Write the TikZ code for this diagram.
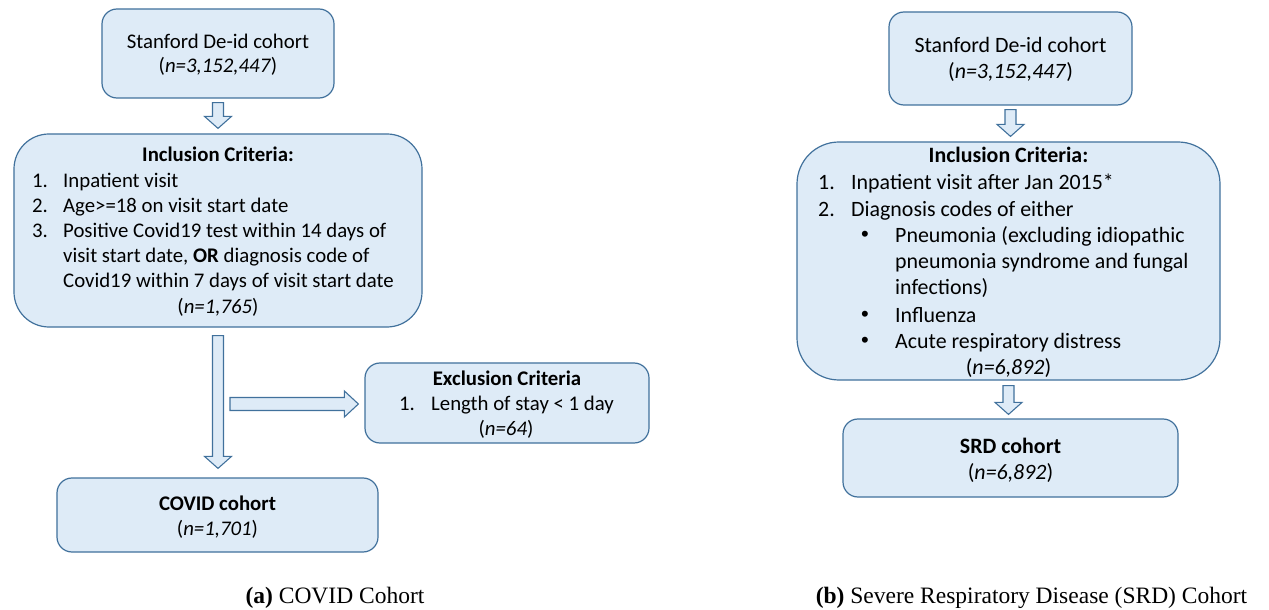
\documentclass[tikz,border=0pt]{standalone}
\usepackage{fontspec}
\setmainfont{Carlito}
\newfontfamily\capfont{Liberation Serif}
\newfontfamily\bulfont{Liberation Sans}
\usetikzlibrary{calc}
\definecolor{boxfill}{HTML}{DEEBF7}
\definecolor{boxline}{HTML}{41719C}
\tikzset{
  flowbox/.style={draw=boxline, fill=boxfill, line width=1.2bp, inner sep=0pt, rounded corners=#1},
  flowbox/.default=15bp,
  blockarr/.style={draw=boxline, fill=boxfill, line width=1.1bp, line join=miter},
  lt/.style={inner sep=0pt, anchor=base, font=\fontsize{20.8bp}{25bp}\selectfont},
  ltw/.style={lt, anchor=base west},
  rt/.style={inner sep=0pt, anchor=base, font=\fontsize{21.9bp}{26bp}\selectfont},
  rtw/.style={rt, anchor=base west},
  bul/.style={inner sep=0pt, anchor=base, font=\bulfont\fontsize{22bp}{24bp}\selectfont},
  captext/.style={inner sep=0pt, anchor=base, font=\capfont\fontsize{23.5bp}{28bp}\selectfont},
}
\newcommand\flowvarrow[2]{\draw[blockarr] let \p1=(#1), \p2=(#2) in
  (\x1-5.5bp,\y1) -- (\x1+5.5bp,\y1) -- (\x1+5.5bp,\y2+12bp) -- (\x1+13.5bp,\y2+12bp)
  -- (\x1,\y2) -- (\x1-13.5bp,\y2+12bp) -- (\x1-5.5bp,\y2+12bp) -- cycle;}
\newcommand\flowharrow[2]{\draw[blockarr] let \p1=(#1), \p2=(#2) in
  (\x1,\y1+6.5bp) -- (\x2-14bp,\y1+6.5bp) -- (\x2-14bp,\y1+13bp) -- (\x2,\y1)
  -- (\x2-14bp,\y1-13bp) -- (\x2-14bp,\y1-6.5bp) -- (\x1,\y1-6.5bp) -- cycle;}
\begin{document}
\begin{tikzpicture}[x=1bp,y=-1bp]
\useasboundingbox (0,0) rectangle (1269,610);
% ---------- left panel boxes
\node[flowbox, minimum width=232bp, minimum height=89bp] (ls) at (218,53.5) {};
\node[flowbox=35bp, minimum width=408bp, minimum height=193bp] (li) at (218,230.5) {};
\node[flowbox, minimum width=284bp, minimum height=80bp] (le) at (507,403) {};
\node[flowbox, minimum width=321bp, minimum height=74bp] (lc) at (217.5,515) {};
% ---------- right panel boxes
\node[flowbox, minimum width=243bp, minimum height=93bp] (rs) at (1010.5,58.5) {};
\node[flowbox=42bp, minimum width=423bp, minimum height=238bp] (ri) at (1008.5,261) {};
\node[flowbox, minimum width=335bp, minimum height=78bp] (rc) at (1010.5,458) {};
% ---------- arrows
\coordinate (a1s) at ($(ls.south)+(0,4)$);
\coordinate (a1e) at ($(li.north)+(0,-5)$);
\flowvarrow{a1s}{a1e}
\coordinate (a2s) at ($(li.south)+(0,8)$);
\coordinate (a2e) at ($(lc.north)+(0,-9)$);
\flowvarrow{a2s}{a2e}
\coordinate (a3s) at (230,404);
\coordinate (a3e) at ($(le.west)+(-6,1)$);
\flowharrow{a3s}{a3e}
\coordinate (b1s) at ($(rs.south)+(0,4)$);
\coordinate (b1e) at ($(ri.north)+(0,-5)$);
\flowvarrow{b1s}{b1e}
\coordinate (b2s) at ($(ri.south)+(0,5)$);
\coordinate (b2e) at ($(rc.north)+(0,-4)$);
\flowvarrow{b2s}{b2e}
% ---------- left panel text
\node[lt] (ls1) at (218,49) {Stanford De-id cohort};
\node[lt] (ls2) at (218,73) {(\textit{n=3,152,447})};
\node[lt] (li0) at (218,162) {\textbf{Inclusion Criteria:}};
\node[ltw] (li1n) at (32,188) {1.};
\node[ltw] (li1) at (63,188) {Inpatient visit};
\node[ltw] (li2n) at (32,213) {2.};
\node[ltw] (li2) at (63,213) {Age>=18 on visit start date};
\node[ltw] (li3n) at (32,238) {3.};
\node[ltw] (li3a) at (63,238) {Positive Covid19 test within 14 days of};
\node[ltw] (li3b) at (63,263) {visit start date, \textbf{OR} diagnosis code of};
\node[ltw] (li3c) at (63,288) {Covid19 within 7 days of visit start date};
\node[lt] (li4) at (218,314) {(\textit{n=1,765})};
\node[lt] (le0) at (507,385) {\textbf{Exclusion Criteria}};
\node[ltw] (le1n) at (399,410) {1.};
\node[ltw] (le1) at (431,410) {Length of stay < 1 day};
\node[lt] (le2) at (506,435) {(\textit{n=64})};
\node[lt] (lc1) at (217.5,510) {\textbf{COVID cohort}};
\node[lt] (lc2) at (217.5,535) {(\textit{n=1,701})};
% ---------- right panel text
\node[rt] (rs1) at (1010.5,53) {Stanford De-id cohort};
\node[rt] (rs2) at (1010.5,79) {(\textit{n=3,152,447})};
\node[rt] (ri0) at (1008.5,163) {\textbf{Inclusion Criteria:}};
\node[rtw] (ri1n) at (818,190) {1.};
\node[rtw] (ri1) at (851,190) {Inpatient visit after Jan 2015*};
\node[rtw] (ri2n) at (818,217) {2.};
\node[rtw] (ri2) at (851,217) {Diagnosis codes of either};
\node[bul] (rb1) at (865,242) {•};
\node[rtw] (ri3a) at (895,243) {Pneumonia (excluding idiopathic};
\node[rtw] (ri3b) at (895,269) {pneumonia syndrome and fungal};
\node[rtw] (ri3c) at (895,295) {infections)};
\node[bul] (rb2) at (865,322) {•};
\node[rtw] (ri4) at (895,323) {Influenza};
\node[bul] (rb3) at (865,348) {•};
\node[rtw] (ri5) at (895,349) {Acute respiratory distress};
\node[rt] (ri6) at (1008.5,375) {(\textit{n=6,892})};
\node[rt] (rc1) at (1010.5,453) {\textbf{SRD cohort}};
\node[rt] (rc2) at (1010.5,479) {(\textit{n=6,892})};
% ---------- captions
\node[captext] (capa) at (335,603) {\textbf{(a)} COVID Cohort};
\node[captext] (capb) at (1031.5,603) {\textbf{(b)} Severe Respiratory Disease (SRD) Cohort};
\end{tikzpicture}
\end{document}
